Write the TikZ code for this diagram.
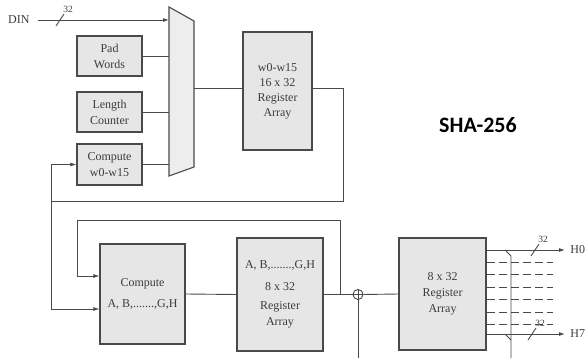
\documentclass[tikz,border=0pt]{standalone}
\usepackage{fontspec}
\setmainfont{Liberation Serif}
\newfontfamily\titlefont{Carlito}
\usetikzlibrary{arrows.meta,calc,positioning}
\definecolor{shInk}{HTML}{3C3C3C}
\definecolor{shFill}{HTML}{E6E6E6}
\definecolor{shLine}{HTML}{4A4A4A}
\tikzset{
 sha/.style={line cap=butt,line join=miter,text=shInk,font=\fontsize{12}{16}\selectfont},
 blk/.style={rectangle,draw=shLine,fill=shFill,line width=1.1pt,inner sep=0pt,align=center},
 wire/.style={draw=shLine,line width=.9pt},
 feed/.style={wire,-{Latex[length=6pt,width=4pt]}},
 busline/.style={wire,dash pattern=on 8pt off 4pt},
 widthtext/.style={font=\fontsize{9.5}{10}\selectfont,inner sep=0pt,text=shInk},
 adder/.style={circle,draw=shLine,fill=white,line width=.9pt,inner sep=0pt,minimum size=10pt},
 title/.style={font=\titlefont\bfseries\fontsize{22}{22}\selectfont,text=black}
}
\newcommand{\widthMark}[4]{%
 \draw[wire] (#1-4,#2+6)--(#1+4,#2-6);
 \node[widthtext] (#4) at (#1+8,#2-11) {#3};}

\begin{document}
\begin{tikzpicture}[sha,x=1pt,y=-1pt]
 \useasboundingbox (0,0) rectangle (585,358);
 \coordinate (muxA) at (169,7);  \coordinate (muxB) at (194,21);
 \coordinate (muxC) at (194,167); \coordinate (muxD) at (169,176);
 \coordinate (muxO) at (194,88);
 \draw[wire,fill=shFill!70,line width=1.1pt] (muxA)--(muxB)--(muxC)--(muxD)--cycle;
 \node[anchor=east] (din) at (33,20) {DIN};
 \node[blk,minimum width=65pt,minimum height=40pt] (pad) at (109.5,56) {Pad\\Words};
 \node[blk,minimum width=65pt,minimum height=40pt] (len) at (109.5,112) {Length\\Counter};
 \node[blk,minimum width=65pt,minimum height=41pt] (cw) at (109.5,164.5) {Compute\\w0-w15};
 \node[blk,minimum width=69pt,minimum height=118pt,font=\fontsize{12}{15}\selectfont] (wreg) at (277.5,91)
   {w0-w15\\16 x 32\\Register\\Array};
 \node[blk,minimum width=85pt,minimum height=100pt] (comp) at (142.5,294)
   {Compute\\[5pt]A, B,.......,G,H};
 \node[blk,minimum width=86pt,minimum height=113pt] (reg) at (280,294.5)
   {A, B,.......,G,H\\[6pt]8 x 32\\[3pt]Register\\Array};
 \node[blk,minimum width=87pt,minimum height=112pt] (out) at (442.5,294)
   {8 x 32\\Register\\Array};
 \node[adder] (add) at (358,294.5) {};
 \draw[shLine,line width=.7pt] (add.north)--(add.south) (add.west)--(add.east);
 \node[title] (ttl) at (478,125) {SHA-256};
 \coordinate (wtap) at (343,201); \coordinate (wleft) at (51,201);
 \coordinate (fbtap) at (340,294.5); \coordinate (fbtop) at (340,220);
 \coordinate (fbleft) at (77,220);
 \coordinate (h0) at (565,250); \coordinate (h7) at (565,334);
 \draw[feed] ([xshift=5pt]din.east)--(din.east -| muxA);
 \widthMark{60}{20}{32}{dinw}
 \draw[wire] (pad.east)--(pad.east -| muxA);
 \draw[wire] (len.east)--(len.east -| muxA);
 \draw[wire] (cw.east)--(cw.east -| muxA);
 \draw[wire] (muxO)--(muxO -| wreg.west);
 \draw[wire] (wreg.east |- muxO)--(wtap |- muxO)--(wtap)--(wleft);
 \draw[feed] (wleft)--(wleft |- cw.west)--(cw.west);
 \draw[feed] (wleft)--(wleft |- 0,309)--(comp.west |- 0,309);
 \draw[feed] (fbtap)--(fbtop)--(fbleft)--(fbleft |- 0,276)--(comp.west |- 0,276);
 \draw[wire] (comp.east)--(reg.west);
 \draw[wire] (reg.east)--(add.west);
 \draw[wire] (add.east)--(out.west);
 \draw[wire] (add.south)--(add.south |- 0,358);
 \draw[feed] (out.east |- h0)--(h0) node[right=5pt,inner sep=0pt] (h0t) {H0};
 \draw[feed] (out.east |- h7)--(h7) node[right=5pt,inner sep=0pt] (h7t) {H7};
 \widthMark{535}{250}{32}{h0w}
 \widthMark{532}{334}{32}{h7w}
 \foreach \y in {262,274.5,287,299.5,312,324.5}
   \draw[busline] (out.east |- 0,\y)--(553,\y);
 \draw[wire] (505,250)--(511,256)--(511,358);
 \draw[wire] (505,334)--(511,340);
\end{tikzpicture}
\end{document}
